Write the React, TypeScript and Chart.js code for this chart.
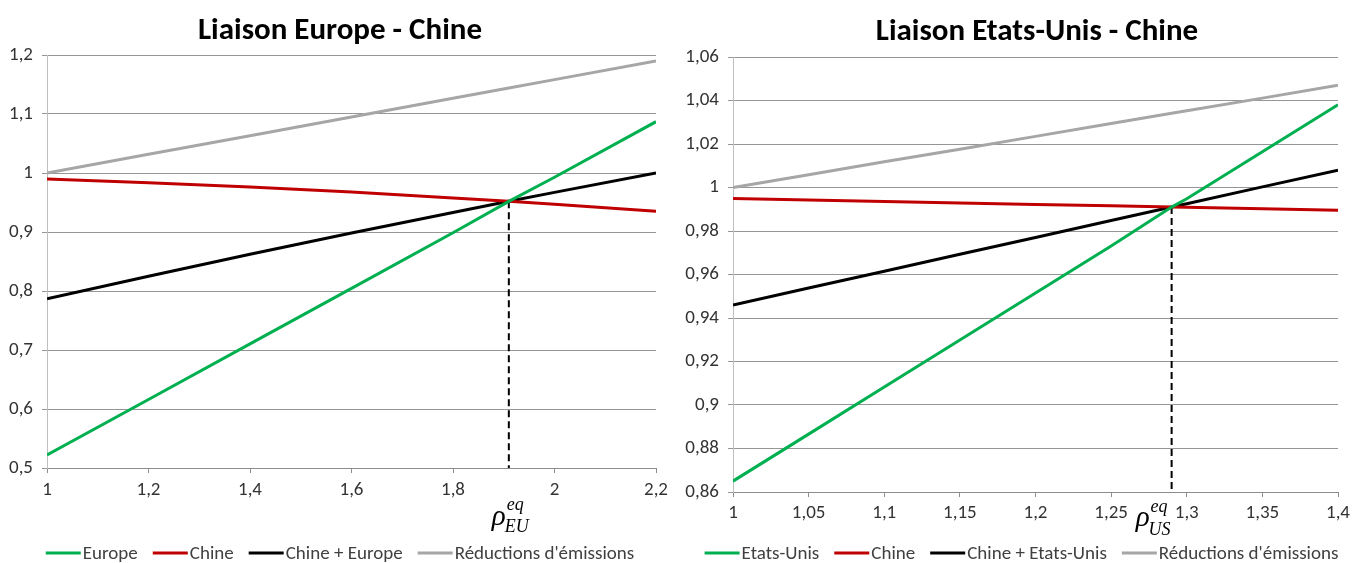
import React, { useEffect, useRef } from "react";
import { Chart, registerables } from "chart.js";

Chart.register(...registerables);

const FONT = "Carlito, Calibri, Lato, sans-serif";
const SERIF = "'Liberation Serif', 'DejaVu Serif', serif";

// ---------- Left chart: Liaison Europe - Chine ----------
const xEU = [1, 1.2, 1.4, 1.6, 1.8, 1.91, 2, 2.2];
const europe = [0.522, 0.6162, 0.7103, 0.8045, 0.8987, 0.952, 0.9928, 1.087];
const chineEU = [0.99, 0.9836, 0.9762, 0.9676, 0.9578, 0.952, 0.947, 0.935];
const chineEurope = [0.787, 0.8251, 0.8622, 0.8983, 0.9332, 0.952, 0.9672, 1.0];
const reductionsEU = [1.0, 1.0317, 1.0633, 1.095, 1.1267, 1.1442, 1.1583, 1.19];
const eqEU = { x: 1.91, y: 0.952 };
const labelsEU = ["Europe", "Chine", "Chine + Europe", "Réductions d'émissions"];
const xRangeEU = { min: 1, max: 2.2, step: 0.2 };
const yRangeEU = { min: 0.5, max: 1.2, step: 0.1 };

// ---------- Right chart: Liaison Etats-Unis - Chine ----------
const xUS = [1, 1.05, 1.1, 1.15, 1.2, 1.25, 1.29, 1.3, 1.35, 1.4];
const etatsUnis = [0.865, 0.8866, 0.9083, 0.9299, 0.9515, 0.9731, 0.991, 0.9948, 1.0164, 1.038];
const chineUS = [0.995, 0.9943, 0.9936, 0.9929, 0.9922, 0.9916, 0.991, 0.9909, 0.9902, 0.9895];
const chineEtatsUnis = [0.946, 0.9538, 0.9615, 0.9693, 0.977, 0.9848, 0.991, 0.9925, 1.0003, 1.008];
const reductionsUS = [1.0, 1.0059, 1.0118, 1.0176, 1.0235, 1.0294, 1.0341, 1.0353, 1.0411, 1.047];
const eqUS = { x: 1.29, y: 0.991 };
const labelsUS = ["Etats-Unis", "Chine", "Chine + Etats-Unis", "Réductions d'émissions"];
const xRangeUS = { min: 1, max: 1.4, step: 0.05 };
const yRangeUS = { min: 0.86, max: 1.06, step: 0.02 };

const COLORS = ["#00b050", "#c00000", "#000000", "#a6a6a6"];

const fmt = (v: any) => String(parseFloat(Number(v).toFixed(3))).replace(".", ",");

const titlePlugin = {
  id: "customTitle",
  afterDraw(chart: any, _args: any, opts: any) {
    const ctx = chart.ctx;
    ctx.save();
    ctx.font = `bold 31px ${FONT}`;
    ctx.fillStyle = "#000";
    ctx.textAlign = "center";
    ctx.textBaseline = "middle";
    ctx.fillText(opts.text, opts.cx, opts.cy);
    ctx.restore();
  },
};

const legendPlugin = {
  id: "customLegend",
  afterDraw(chart: any, _args: any, opts: any) {
    const ctx = chart.ctx;
    const items = chart.data.datasets.filter((d: any) => d.label);
    ctx.save();
    ctx.font = `${opts.fontSize}px ${FONT}`;
    const widths = items.map((d: any) => ctx.measureText(d.label).width);
    let total = 0;
    widths.forEach((w: number) => (total += opts.boxWidth + opts.boxGap + w));
    total += opts.itemGap * (items.length - 1);
    let x = chart.width / 2 - total / 2 + (opts.shift || 0);
    const y = opts.y;
    items.forEach((d: any, i: number) => {
      ctx.strokeStyle = d.borderColor;
      ctx.lineWidth = 3;
      ctx.beginPath();
      ctx.moveTo(x, y);
      ctx.lineTo(x + opts.boxWidth, y);
      ctx.stroke();
      x += opts.boxWidth + opts.boxGap;
      ctx.fillStyle = "#404040";
      ctx.textBaseline = "middle";
      ctx.textAlign = "left";
      ctx.fillText(d.label, x, y + 1);
      x += widths[i] + opts.itemGap;
    });
    ctx.restore();
  },
};

const rhoPlugin = {
  id: "rhoLabel",
  afterDraw(chart: any, _args: any, opts: any) {
    const ctx = chart.ctx;
    const px = chart.scales.x.getPixelForValue(opts.value);
    ctx.save();
    ctx.fillStyle = "#000";
    ctx.textBaseline = "alphabetic";
    ctx.textAlign = "left";
    ctx.font = `italic 29px ${SERIF}`;
    const x0 = px + opts.dx;
    ctx.fillText("ρ", x0, opts.baseY);
    const rw = ctx.measureText("ρ").width;
    ctx.font = `italic 18px ${SERIF}`;
    ctx.fillText("eq", x0 + rw + 1, opts.supY);
    ctx.fillText(opts.sub, x0 + rw - 1, opts.subY);
    ctx.restore();
  },
};

function makeConfig(p: any): any {
  const series = [p.s0, p.s1, p.s2, p.s3];
  const datasets: any[] = series.map((s: number[], i: number) => ({
    label: p.labels[i],
    data: p.xs.map((x: number, j: number) => ({ x, y: s[j] })),
    borderColor: COLORS[i],
    backgroundColor: COLORS[i],
    borderWidth: 3,
    pointRadius: 0,
    fill: false,
    tension: 0,
  }));
  datasets.push({
    label: "",
    data: [
      { x: p.eq.x, y: p.eq.y },
      { x: p.eq.x, y: p.yr.min },
    ],
    borderColor: "#000000",
    borderWidth: 2,
    borderDash: [7, 4],
    pointRadius: 0,
    fill: false,
  });
  return {
    type: "line",
    data: { datasets },
    plugins: [titlePlugin, legendPlugin, rhoPlugin],
    options: {
      responsive: false,
      animation: false,
      devicePixelRatio: 1,
      layout: { padding: { left: 0, right: p.padRight, top: p.padTop, bottom: p.padBottom } },
      plugins: {
        legend: { display: false },
        tooltip: { enabled: false },
        title: { display: false },
        customTitle: { text: p.title, cx: p.titleX, cy: p.titleY },
        customLegend: { fontSize: 19, boxWidth: 35, boxGap: 2, itemGap: 15, y: 553 },
        rhoLabel: p.rho,
      },
      scales: {
        x: {
          type: "linear",
          min: p.xr.min,
          max: p.xr.max,
          ticks: {
            stepSize: p.xr.step,
            callback: fmt,
            color: "#333",
            font: { family: FONT, size: 19 },
            padding: p.xTickPad,
            maxRotation: 0,
            autoSkip: false,
          },
          grid: {
            drawOnChartArea: false,
            drawTicks: true,
            tickLength: 5,
            color: "#8c8c8c",
          },
          border: { display: true, color: "#8c8c8c", width: 1 },
          afterFit: (s: any) => {
            s.height = p.xAxisH;
          },
        },
        y: {
          min: p.yr.min,
          max: p.yr.max,
          ticks: {
            stepSize: p.yr.step,
            callback: fmt,
            color: "#333",
            font: { family: FONT, size: 19 },
            padding: 9,
          },
          grid: {
            drawTicks: true,
            tickLength: 5,
            color: "#969696",
          },
          border: { display: true, color: "#bfbfbf", width: 1 },
          afterFit: (s: any) => {
            s.width = p.yAxisW;
          },
        },
      },
    },
  };
}

function ChartPanel({ params, width, height }: any) {
  const ref = useRef<HTMLCanvasElement>(null);
  useEffect(() => {
    const chart = new Chart(ref.current as HTMLCanvasElement, makeConfig(params));
    return () => chart.destroy();
  }, []);
  return (
    <canvas
      ref={ref}
      width={width}
      height={height}
      style={{ display: "block", width, height }}
    />
  );
}

const leftParams = {
  title: "Liaison Europe - Chine",
  titleX: 340,
  titleY: 31,
  xs: xEU,
  s0: europe,
  s1: chineEU,
  s2: chineEurope,
  s3: reductionsEU,
  labels: labelsEU,
  eq: eqEU,
  xr: xRangeEU,
  yr: yRangeEU,
  padTop: 55,
  padRight: 24,
  padBottom: 55,
  xAxisH: 40,
  yAxisW: 47,
  xTickPad: 6,
  rho: { value: eqEU.x, dx: -17, baseY: 525, supY: 510, subY: 532, sub: "EU" },
};

const rightParams = {
  title: "Liaison Etats-Unis - Chine",
  titleX: 357,
  titleY: 32,
  xs: xUS,
  s0: etatsUnis,
  s1: chineUS,
  s2: chineEtatsUnis,
  s3: reductionsUS,
  labels: labelsUS,
  eq: eqUS,
  xr: xRangeUS,
  yr: yRangeUS,
  padTop: 57,
  padRight: 25,
  padBottom: 41,
  xAxisH: 30,
  yAxisW: 53,
  xTickPad: 5,
  rho: { value: eqUS.x, dx: -36, baseY: 526, supY: 512, subY: 535, sub: "US" },
};

export default function App() {
  return (
    <div
      style={{
        position: "fixed",
        left: 0,
        top: 0,
        width: 1363,
        height: 563,
        display: "flex",
        background: "#ffffff",
      }}
    >
      <ChartPanel params={leftParams} width={680} height={563} />
      <ChartPanel params={rightParams} width={683} height={563} />
    </div>
  );
}
